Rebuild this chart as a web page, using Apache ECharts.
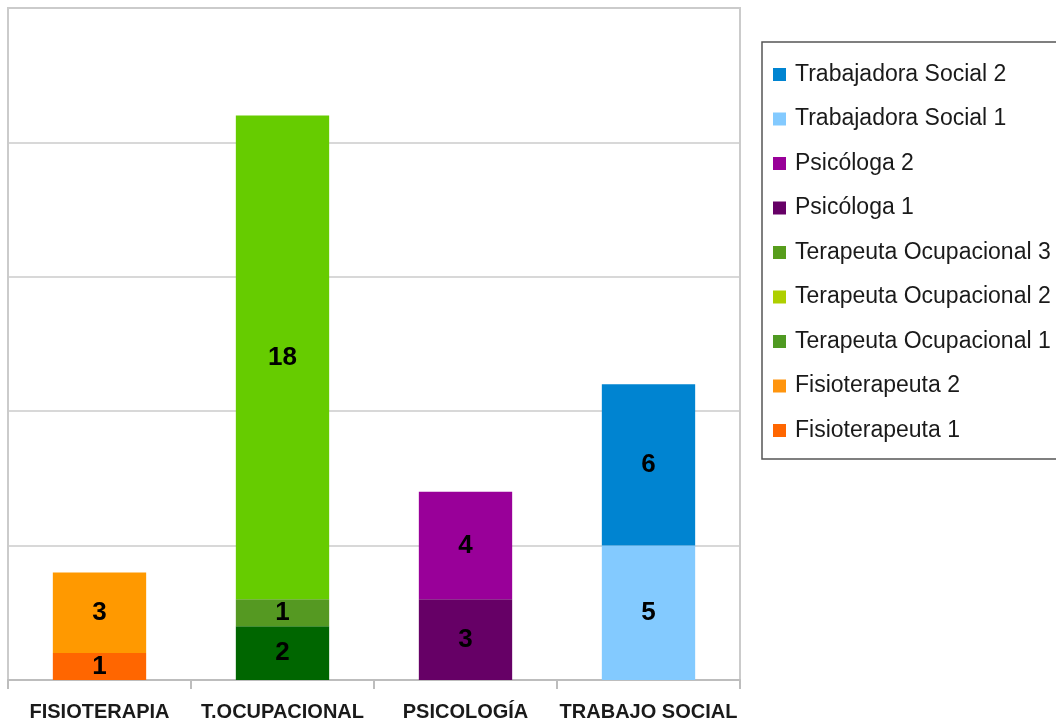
<!DOCTYPE html>
<html>
<head>
<meta charset="utf-8">
<script src="https://cdn.jsdelivr.net/npm/echarts@6/dist/echarts.min.js"></script>
<style>
html,body{margin:0;padding:0;background:#fff;}
#chart{width:1056px;height:725px;}
</style>
</head>
<body>
<div id="chart"></div>
<script>
const categories = ['FISIOTERAPIA', 'T.OCUPACIONAL', 'PSICOLOGÍA', 'TRABAJO SOCIAL'];
const seriesNames = ['Fisioterapeuta 1', 'Fisioterapeuta 2', 'Terapeuta Ocupacional 1', 'Terapeuta Ocupacional 2', 'Terapeuta Ocupacional 3', 'Psicóloga 1', 'Psicóloga 2', 'Trabajadora Social 1', 'Trabajadora Social 2'];
const fisio1 = [1, null, null, null];
const fisio2 = [3, null, null, null];
const to1 = [null, 2, null, null];
const to2 = [null, 1, null, null];
const to3 = [null, 18, null, null];
const psic1 = [null, null, 3, null];
const psic2 = [null, null, 4, null];
const ts1 = [null, null, null, 5];
const ts2 = [null, null, null, 6];
const seriesValues = [fisio1, fisio2, to1, to2, to3, psic1, psic2, ts1, ts2];
const barColors = ['#ff6600', '#ff9900', '#006600', '#559922', '#66cc00', '#660066', '#990099', '#83caff', '#0084d1'];
const legendColors = ['#ff6600', '#ff950e', '#4f9a22', '#aecf00', '#579d1c', '#660066', '#990099', '#83caff', '#0084d1'];
const yTicks = [0, 5, 10, 15, 20, 25];

const FONT = 'Arial, "Liberation Sans", sans-serif';
const chart = echarts.init(document.getElementById('chart'));

const series = seriesNames.map((name, i) => ({
  name: name,
  type: 'bar',
  stack: 'total',
  barWidth: '51%',
  itemStyle: { color: legendColors[i] },
  data: seriesValues[i].map(v => v == null ? '-' : { value: v, itemStyle: { color: barColors[i] } }),
  label: {
    show: true,
    position: 'inside',
    color: '#000',
    fontFamily: FONT,
    fontWeight: 'bold',
    fontSize: 26
  },
  emphasis: { disabled: true }
}));

chart.setOption({
  animation: false,
  backgroundColor: '#fff',
  grid: {
    left: 8, right: 316, top: 8, bottom: 45,
    show: true, borderColor: '#cbcbcb', borderWidth: 2, backgroundColor: 'transparent'
  },
  legend: {
    orient: 'vertical',
    left: 762,
    top: 42,
    align: 'left',
    data: seriesNames.slice().reverse(),
    itemWidth: 13,
    itemHeight: 13,
    itemGap: 21.5,
    icon: 'rect',
    padding: [21, 60, 17, 11],
    borderColor: '#555',
    borderWidth: 1.5,
    selectedMode: false,
    textStyle: {
      fontFamily: FONT,
      fontSize: 23,
      color: '#1a1a1a',
      padding: [0, 0, 0, 4]
    }
  },
  xAxis: {
    type: 'category',
    data: categories,
    boundaryGap: true,
    axisLine: { lineStyle: { color: '#bdbdbd', width: 2 } },
    axisTick: { show: true, interval: 0, length: 9, lineStyle: { color: '#bdbdbd', width: 2 } },
    axisLabel: {
      interval: 0,
      color: '#1a1a1a',
      fontFamily: FONT,
      fontWeight: 'bold',
      fontSize: 20,
      margin: 22
    }
  },
  yAxis: {
    type: 'value',
    min: yTicks[0],
    max: yTicks[yTicks.length - 1],
    interval: yTicks[1] - yTicks[0],
    axisLabel: { show: false },
    axisTick: { show: false },
    axisLine: { show: true, lineStyle: { color: '#cbcbcb', width: 2 } },
    splitLine: { lineStyle: { color: '#cbcbcb', width: 1.5 } }
  },
  series: series
});
</script>
</body>
</html>
